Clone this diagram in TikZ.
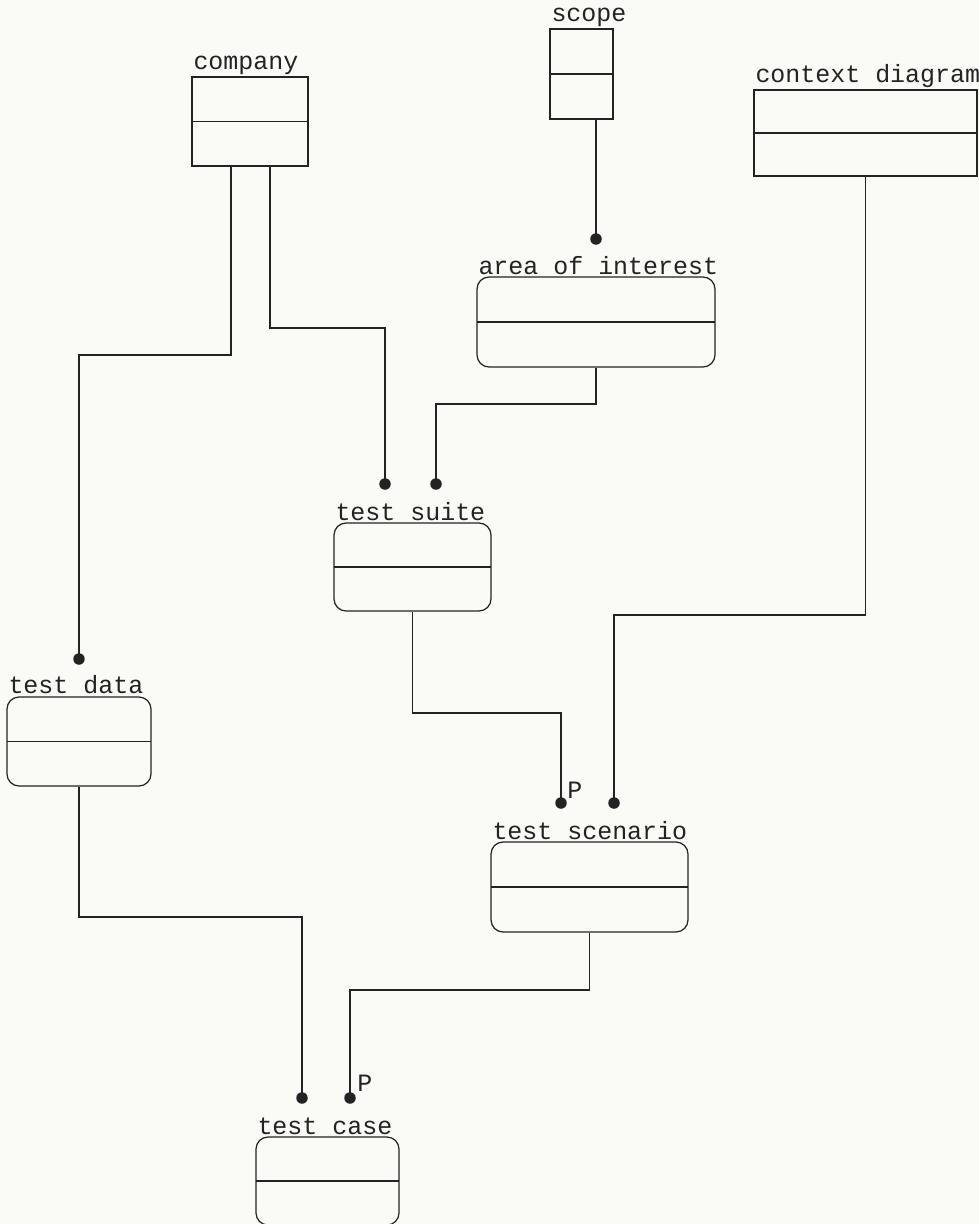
\documentclass[tikz,border=0pt]{standalone}
\usepackage{fontspec}
\setmonofont{Liberation Mono}
\definecolor{paper}{RGB}{250,250,246}
\definecolor{ink}{RGB}{35,35,35}
\begin{document}
\begin{tikzpicture}[
    x=0.02cm, y=-0.02cm,
    entity/.style={rectangle, draw=ink, line width=0.7pt, inner sep=0pt,
        path picture={\draw[ink, line width=1pt] (path picture bounding box.west) -- (path picture bounding box.east);}},
    rentity/.style={entity, rounded corners=0.24cm},
    title/.style={label={[anchor=south west, inner sep=1pt, text=ink, font=\ttfamily\fontsize{14.2}{16}\selectfont]north west:#1}},
    link/.style={draw=ink, line width=0.8pt},
    dot/.style={circle, fill=ink, inner sep=0pt, minimum size=0.23cm},
    plabel/.style={anchor=west, inner sep=0pt, text=ink, font=\ttfamily\fontsize{14.2}{16}\selectfont}
]
\fill[paper] (0,0) rectangle (979,1224);
\useasboundingbox (0,0) rectangle (979,1224);

% entities
\node[entity, minimum width=2.32cm, minimum height=1.78cm, title=company] (company) at (250,121.5) {};
\node[entity, minimum width=1.26cm, minimum height=1.8cm, title=scope] (scope) at (581.5,74) {};
\node[entity, minimum width=4.46cm, minimum height=1.72cm, title=context diagram] (context) at (865.5,133) {};
\node[rentity, minimum width=4.76cm, minimum height=1.8cm, title=area of interest] (area) at (596,322) {};
\node[rentity, minimum width=3.14cm, minimum height=1.76cm, title=test suite] (suite) at (412.5,567) {};
\node[rentity, minimum width=2.88cm, minimum height=1.78cm, title=test data] (data) at (79,741.5) {};
\node[rentity, minimum width=3.94cm, minimum height=1.8cm, title=test scenario] (scenario) at (589.5,887) {};
\node[rentity, minimum width=2.86cm, minimum height=1.76cm, title=test case] (case) at (327.5,1181) {};

% relationship ends
\node[dot] (areaDot) at (596,239) {};
\node[dot] (suiteDotA) at (385,484) {};
\node[dot] (suiteDotB) at (436,484) {};
\node[dot] (dataDot) at (79,659) {};
\node[dot] (scenDotA) at (561,803) {};
\node[dot] (scenDotB) at (614,803) {};
\node[dot] (caseDotA) at (302,1098) {};
\node[dot] (caseDotB) at (350,1098) {};

\node[plabel] (scenP) at (567,790) {P};
\node[plabel] (caseP) at (357,1083) {P};

% relationships
\draw[link] (company.south -| 231,0) |- (79,355) -- (dataDot.center);
\draw[link] (company.south -| 270,0) |- (385,328) -- (suiteDotA.center);
\draw[link] (scope.south -| areaDot) -- (areaDot.center);
\draw[link] (area.south) |- (436,404) -- (suiteDotB.center);
\draw[link] (context.south) |- (614,615) -- (scenDotB.center);
\draw[link] (suite.south) |- (561,713) -- (scenDotA.center);
\draw[link] (data.south) |- (302,917) -- (caseDotA.center);
\draw[link] (scenario.south) |- (350,990) -- (caseDotB.center);
\end{tikzpicture}
\end{document}
